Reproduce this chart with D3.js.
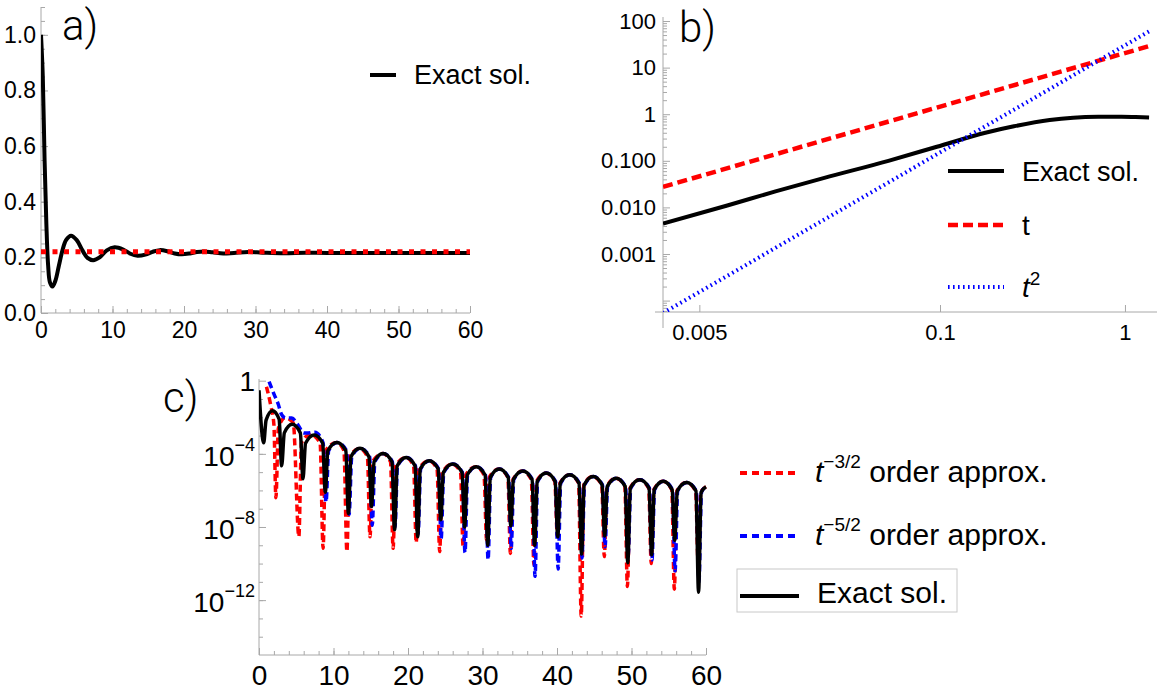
<!DOCTYPE html>
<html>
<head>
<meta charset="utf-8">
<script src="https://cdn.jsdelivr.net/npm/d3@7"></script>
<style>
  body { margin: 0; background: #fff; }
  svg { font-family: "Liberation Sans", Arial, Helvetica, sans-serif; }
</style>
</head>
<body>
<svg id="fig" width="1161" height="697"></svg>
<script>
// ---------- panel a) : exact solution vs long time limit ----------
var aTime  = [0, 0.25, 0.5, 0.75, 1.0, 1.25, 1.6, 2.0, 2.5, 3.0, 3.5, 4.2, 5.0, 5.8, 6.5, 7.3, 8.2, 9.2, 10.3, 11.5,
              12.5, 13.5, 14.6, 15.6, 16.6, 17.7, 18.7, 19.7, 20.8, 21.8, 22.8, 24, 25.5, 27, 29, 31, 34, 37, 40, 45, 50, 55, 60];
var aExact = [1.0, 0.85, 0.55, 0.32, 0.17, 0.11, 0.095, 0.115, 0.17, 0.225, 0.262, 0.278, 0.262, 0.225, 0.198, 0.19, 0.2, 0.225, 0.236, 0.228,
              0.213, 0.206, 0.21, 0.22, 0.226, 0.222, 0.214, 0.211, 0.214, 0.219, 0.221, 0.218, 0.214, 0.216, 0.219, 0.217, 0.215, 0.217, 0.216, 0.216, 0.216, 0.216, 0.216];
var aLimitT = [0, 60];
var aLimit  = [0.22, 0.22];
var aXTicks = [0, 10, 20, 30, 40, 50, 60];
var aYTicks = [0, 0.2, 0.4, 0.6, 0.8, 1.0];

// ---------- panel b) : short time, log-log ----------
var bExactT = [0.00318, 0.00708, 0.0129, 0.0237, 0.0526, 0.0962, 0.176, 0.251, 0.392, 0.525, 0.716, 0.96, 1.14, 1.35];
var bExact  = [0.0045, 0.011, 0.022, 0.043, 0.1, 0.2, 0.4, 0.55, 0.75, 0.84, 0.88, 0.885, 0.87, 0.85];
var bLinT = [0.00318, 1.35];
var bLin  = [0.0276, 29];
var bSqT  = [0.00318, 1.35];
var bSq   = [5.4e-5, 60];
var bXTicks = [0.005, 0.1, 1];
var bXLabels = ["0.005", "0.1", "1"];
var bYTicks = [0.0001, 0.001, 0.01, 0.1, 1, 10, 100];
var bYLabels = ["", "0.001", "0.010", "0.100", "1", "10", "100"];

// ---------- panel c) : asymptotic approximations, |value| on log axis ----------
var cExact = [[0,3e-1],[0.63,4e-4],[0.95,7e-3],[1.8,2.3e-2],[2.7,8e-3],[3.04,2.2e-5],[3.4,1.4e-3],[4.45,4.1e-3],[5.55,1.4e-3],
  [5.9,4.3e-6],[6.25,3.8e-4],[7.4,1.07e-3],[8.55,3.8e-4],[8.9,8e-7],[9.25,1.5e-4],[10.45,4.2e-4],[11.65,1.5e-4],
  [12.0,5.4e-8],[12.35,7e-5],[13.55,2e-4],[14.75,7e-5],[15.1,1.3e-7],[15.45,3.7e-5],[16.65,1.05e-4],[17.85,3.7e-5],
  [18.2,7e-9],[18.55,2.2e-5],[19.75,6.3e-5],[20.95,2.2e-5],[21.3,2.9e-9],[21.65,1.5e-5],[22.85,4.2e-5],[24.05,1.5e-5],
  [24.4,2.5e-8],[24.75,9.7e-6],[26.0,2.75e-5],[27.25,9.7e-6],[27.6,1e-8],[27.95,7e-6],[29.15,2e-5],[30.35,7e-6],
  [30.7,1e-9],[31.05,5.2e-6],[32.25,1.48e-5],[33.45,5.2e-6],[33.8,1.15e-8],[34.15,4e-6],[35.4,1.15e-5],[36.65,4e-6],
  [37.0,1e-9],[37.35,3.1e-6],[38.55,8.9e-6],[39.75,3.1e-6],[40.1,2.9e-9],[40.45,2.5e-6],[41.7,7.1e-6],[42.95,2.5e-6],
  [43.3,3.3e-10],[43.65,2e-6],[44.85,5.75e-6],[46.05,2e-6],[46.4,3.2e-9],[46.75,1.65e-6],[47.95,4.7e-6],[49.15,1.65e-6],
  [49.5,1.1e-10],[49.85,1.35e-6],[51.1,3.8e-6],[52.35,1.35e-6],[52.7,3e-10],[53.05,1.1e-6],[54.25,3.2e-6],[55.45,1.1e-6],
  [55.8,1.9e-9],[56.15,9.5e-7],[57.4,2.7e-6],[58.65,9.5e-7],[59.0,2.7e-12],[59.35,8e-7],[60,1.6e-6]];

var cOrder32 = [[1.0,4.7e-1],[1.55,5e-2],[2.0,4e-3],[2.27,4e-7],[2.6,2.5e-3],[3.5,9.5e-3],[4.6,5e-3],[5.35,3e-9],
  [5.7,4e-4],[6.9,1.15e-3],[8.2,4e-4],[8.6,6.8e-10],[8.95,1.5e-4],[10.4,4.2e-4],[11.4,1.5e-4],[11.8,4.5e-10],
  [12.15,7e-5],[13.5,2e-4],[14.55,7e-5],[14.9,2.9e-9],[15.25,3.7e-5],[16.6,1.05e-4],[17.65,3.7e-5],[18.0,6.8e-10],
  [18.35,2.2e-5],[19.7,6.3e-5],[20.75,2.2e-5],[21.1,1.4e-9],[21.45,1.5e-5],[22.8,4.2e-5],[23.9,1.5e-5],[24.25,4.5e-10],
  [24.6,9.7e-6],[25.95,2.75e-5],[27.05,9.7e-6],[27.4,8.3e-10],[27.75,7e-6],[29.1,2e-5],[30.2,7e-6],[30.55,2e-9],
  [30.9,5.2e-6],[32.2,1.48e-5],[33.4,5.2e-6],[33.75,3.6e-10],[34.1,4e-6],[35.35,1.15e-5],[36.55,4e-6],[36.9,8.5e-11],
  [37.25,3.1e-6],[38.5,8.9e-6],[39.7,3.1e-6],[40.05,3e-9],[40.4,2.5e-6],[41.65,7.1e-6],[42.9,2.5e-6],[43.25,1.35e-13],
  [43.6,2e-6],[44.8,5.75e-6],[46.0,2e-6],[46.35,2.4e-10],[46.7,1.65e-6],[47.9,4.7e-6],[49.1,1.65e-6],[49.45,5.6e-12],
  [49.8,1.35e-6],[51.05,3.8e-6],[52.3,1.35e-6],[52.65,1e-10],[53.0,1.1e-6],[54.2,3.2e-6],[55.4,1.1e-6],[55.75,4e-12],
  [56.1,9.5e-7],[57.35,2.7e-6],[58.6,9.5e-7],[58.95,1e-10],[59.3,8e-7],[60,1.6e-6]];

var cOrder52 = [[1.35,9e-1],[2.0,1.9e-1],[2.6,5e-2],[3.0,1.5e-2],[3.6,9e-3],[4.4,9e-3],[5.2,4e-3],[6.0,1.4e-3],
  [6.6,1.4e-3],[7.5,1.5e-3],[8.6,4e-4],[9.0,2.3e-7],[9.35,1.5e-4],[10.5,4.2e-4],[11.75,1.5e-4],[12.1,5e-8],
  [12.45,7e-5],[13.6,2e-4],[14.85,7e-5],[15.2,1.25e-8],[15.55,3.7e-5],[16.7,1.05e-4],[17.9,3.7e-5],[18.25,1e-8],
  [18.6,2.2e-5],[19.8,6.3e-5],[21.0,2.2e-5],[21.35,4e-9],[21.7,1.5e-5],[22.9,4.2e-5],[24.1,1.5e-5],[24.45,2.3e-9],
  [24.8,9.7e-6],[26.05,2.75e-5],[27.3,9.7e-6],[27.65,4e-10],[28.0,7e-6],[29.2,2e-5],[30.4,7e-6],[30.75,1.6e-10],
  [31.1,5.2e-6],[32.3,1.48e-5],[33.5,5.2e-6],[33.85,6.8e-10],[34.2,4e-6],[35.45,1.15e-5],[36.7,4e-6],[37.05,2e-11],
  [37.4,3.1e-6],[38.6,8.9e-6],[39.8,3.1e-6],[40.15,5e-11],[40.5,2.5e-6],[41.75,7.1e-6],[43.0,2.5e-6],[43.35,2e-10],
  [43.7,2e-6],[44.9,5.75e-6],[46.1,2e-6],[46.45,8.3e-10],[46.8,1.65e-6],[48.0,4.7e-6],[49.2,1.65e-6],[49.55,3e-10],
  [49.9,1.35e-6],[51.15,3.8e-6],[52.4,1.35e-6],[52.75,1.6e-10],[53.1,1.1e-6],[54.3,3.2e-6],[55.5,1.1e-6],[55.85,4e-11],
  [56.2,9.5e-7],[57.45,2.7e-6],[58.7,9.5e-7],[59.05,1e-11],[59.4,8e-7],[60,1.6e-6]];

var cXTicks = [0, 10, 20, 30, 40, 50, 60];
var cYTicks = [1, 1e-4, 1e-8, 1e-12];
var cYLabels = [["1", ""], ["10", "\u22124"], ["10", "\u22128"], ["10", "\u221212"]];

var RED = "#ff0000", BLUE = "#0000ff", GRAY = "#a8a8a8";
var svg = d3.select("#fig");

function clipRect(id, x, y, w, h) {
  svg.append("clipPath").attr("id", id).append("rect")
    .attr("x", x).attr("y", y).attr("width", w).attr("height", h);
}

function tidy(g, fs) {
  g.select(".domain").remove();
  g.selectAll(".tick line").attr("stroke", GRAY);
  g.selectAll(".tick text").attr("fill", "#000").style("font-size", fs + "px")
    .style("font-family", '"Liberation Sans", Arial, sans-serif');
}

function line(g, x1, y1, x2, y2) {
  g.append("line").attr("x1", x1).attr("y1", y1).attr("x2", x2).attr("y2", y2)
    .attr("stroke", GRAY).attr("stroke-width", 1);
}

// ================= a) =================
var ax = d3.scaleLinear().domain([0, 60]).range([41, 470]);
var ay = d3.scaleLinear().domain([0, 1.1]).range([313, 7]);
var ga = svg.append("g");

tidy(ga.append("g").attr("transform", "translate(0," + ay(0) + ")")
  .call(d3.axisBottom(ax).tickValues(d3.range(0, 61, 2)).tickSize(-4).tickFormat("")), 22);
tidy(ga.append("g").attr("transform", "translate(0," + ay(0) + ")")
  .call(d3.axisBottom(ax).tickValues(aXTicks).tickSize(-7).tickPadding(9).tickFormat(d3.format("d"))), 23);
tidy(ga.append("g").attr("transform", "translate(" + ax(0) + ",0)")
  .call(d3.axisLeft(ay).tickValues(d3.range(0, 1.101, 0.05)).tickSize(-4).tickFormat("")), 22);
tidy(ga.append("g").attr("transform", "translate(" + ax(0) + ",0)")
  .call(d3.axisLeft(ay).tickValues(aYTicks).tickSize(-7).tickPadding(5).tickFormat(d3.format(".1f"))), 23);
line(ga, ax(0), ay(0), ax(60), ay(0));
line(ga, ax(0), ay(0), ax(0), ay(1.1));

clipRect("clipA", ax(0), ay(1.1), ax(60) - ax(0) + 4, ay(0) - ay(1.1));
var pa = ga.append("g").attr("clip-path", "url(#clipA)");
pa.append("path").datum(d3.zip(aTime, aExact))
  .attr("d", d3.line().x(function (d) { return ax(d[0]); }).y(function (d) { return ay(d[1]); }).curve(d3.curveCatmullRom.alpha(0.5)))
  .attr("fill", "none").attr("stroke", "#000").attr("stroke-width", 4);
pa.append("path").datum(d3.zip(aLimitT, aLimit))
  .attr("d", d3.line().x(function (d) { return ax(d[0]); }).y(function (d) { return ay(d[1]); }))
  .attr("fill", "none").attr("stroke", RED).attr("stroke-width", 5).attr("stroke-dasharray", "5,6.5");

ga.append("text").attr("x", 62).attr("y", 40).text("a)")
  .style("font-size", "42px").style("font-family", "Roboto, 'Liberation Sans', sans-serif").style("font-weight", 300);
ga.append("line").attr("x1", 370).attr("x2", 396).attr("y1", 75).attr("y2", 75).attr("stroke", "#000").attr("stroke-width", 4);
ga.append("text").attr("x", 414).attr("y", 84).text("Exact sol.").style("font-size", "27px");

// ================= b) =================
var bx = d3.scaleLog().domain([0.00318, 1.49]).range([663, 1157]);
var by = d3.scaleLog().domain([5.69e-5, 122]).range([312, 17]);
var gb = svg.append("g");

var bMinor = [];
[-5, -4, -3, -2, -1, 0, 1, 2].forEach(function (e) {
  for (var k = 2; k <= 9; k++) {
    var v = k * Math.pow(10, e);
    if (v > by.domain()[0] && v < by.domain()[1]) bMinor.push(v);
  }
});
tidy(gb.append("g").attr("transform", "translate(" + bx.range()[0] + ",0)")
  .call(d3.axisLeft(by).tickValues(bMinor).tickSize(-4).tickFormat("")), 22);
tidy(gb.append("g").attr("transform", "translate(" + bx.range()[0] + ",0)")
  .call(d3.axisLeft(by).tickValues(bYTicks).tickSize(-7).tickPadding(7)
    .tickFormat(function (d, i) { return bYLabels[i]; })), 22);
tidy(gb.append("g").attr("transform", "translate(0," + by.range()[0] + ")")
  .call(d3.axisBottom(bx).tickValues(bXTicks).tickSize(-7).tickPadding(12)
    .tickFormat(function (d, i) { return bXLabels[i]; })), 22);
line(gb, 655, by.range()[0], 1157, by.range()[0]);
line(gb, bx.range()[0], 328, bx.range()[0], by.range()[1]);

clipRect("clipB", bx.range()[0], by.range()[1], 1157 - bx.range()[0], by.range()[0] - by.range()[1]);
var pb = gb.append("g").attr("clip-path", "url(#clipB)");
var bLine = d3.line().x(function (d) { return bx(d[0]); }).y(function (d) { return by(d[1]); });
pb.append("path").datum(d3.zip(bExactT, bExact)).attr("d", bLine.curve(d3.curveMonotoneX))
  .attr("fill", "none").attr("stroke", "#000").attr("stroke-width", 4);
pb.append("path").datum(d3.zip(bLinT, bLin)).attr("d", bLine.curve(d3.curveLinear))
  .attr("fill", "none").attr("stroke", RED).attr("stroke-width", 4.5).attr("stroke-dasharray", "10,5");
pb.append("path").datum(d3.zip(bSqT, bSq)).attr("d", bLine.curve(d3.curveLinear))
  .attr("fill", "none").attr("stroke", BLUE).attr("stroke-width", 4).attr("stroke-dasharray", "1.6,3.4");

gb.append("text").attr("x", 679).attr("y", 42).text("b)")
  .style("font-size", "42px").style("font-family", "Roboto, 'Liberation Sans', sans-serif").style("font-weight", 300);
var bLeg = [
  { y: 171, color: "#000", dash: null, w: 4 },
  { y: 225, color: RED, dash: "10,5", w: 4.5 },
  { y: 287, color: BLUE, dash: "1.6,3.4", w: 4 }
];
bLeg.forEach(function (d) {
  gb.append("line").attr("x1", 948).attr("x2", 1004).attr("y1", d.y).attr("y2", d.y)
    .attr("stroke", d.color).attr("stroke-width", d.w).attr("stroke-dasharray", d.dash);
});
gb.append("text").attr("x", 1022).attr("y", 181).text("Exact sol.").style("font-size", "27px");
gb.append("text").attr("x", 1022).attr("y", 235).text("t").style("font-size", "28px");
var t2 = gb.append("text").attr("x", 1022).attr("y", 297).style("font-size", "28px");
t2.append("tspan").text("t").style("font-style", "italic");
t2.append("tspan").attr("dy", -12).style("font-size", "19px").text("2");

// ================= c) =================
var cx = d3.scaleLinear().domain([0, 60]).range([259, 706]);
var cy = d3.scaleLog().domain([1e-15, 1]).range([655, 380.7]);
var gc = svg.append("g");

tidy(gc.append("g").attr("transform", "translate(0," + cy(1e-15) + ")")
  .call(d3.axisBottom(cx).tickValues(d3.range(0, 61, 2)).tickSize(-4).tickFormat("")), 28);
tidy(gc.append("g").attr("transform", "translate(0," + cy(1e-15) + ")")
  .call(d3.axisBottom(cx).tickValues(cXTicks).tickSize(-7).tickPadding(10).tickFormat(d3.format("d"))), 28);
var cMinor = d3.range(-14, 0).map(function (e) { return Math.pow(10, e); });
tidy(gc.append("g").attr("transform", "translate(" + cx(0) + ",0)")
  .call(d3.axisLeft(cy).tickValues(cMinor).tickSize(-4).tickFormat("")), 28);
tidy(gc.append("g").attr("transform", "translate(" + cx(0) + ",0)")
  .call(d3.axisLeft(cy).tickValues(cYTicks).tickSize(-7).tickFormat("")), 28);
line(gc, cx(0), cy(1e-15), cx(60), cy(1e-15));
line(gc, cx(0), cy(1e-15), cx(0), 379);

cYTicks.forEach(function (v, i) {
  var t = gc.append("text").attr("x", 255).attr("y", cy(v) + (i === 0 ? 10 : 12))
    .attr("text-anchor", "end").style("font-size", "28px");
  t.append("tspan").text(cYLabels[i][0]);
  if (cYLabels[i][1]) t.append("tspan").attr("dy", -15).style("font-size", "18px").text(cYLabels[i][1]);
});

clipRect("clipC", cx(0), 376, cx(60) - cx(0) + 3, cy(1e-15) - 376);
var pc = gc.append("g").attr("clip-path", "url(#clipC)");
var cLine = d3.line().x(function (d) { return cx(d[0]); }).y(function (d) { return cy(d[1]); }).curve(d3.curveMonotoneX);
pc.append("path").datum(cOrder32).attr("d", cLine)
  .attr("fill", "none").attr("stroke", RED).attr("stroke-width", 3.5).attr("stroke-dasharray", "7,4");
pc.append("path").datum(cOrder52).attr("d", cLine)
  .attr("fill", "none").attr("stroke", BLUE).attr("stroke-width", 3.5).attr("stroke-dasharray", "7,4");
pc.append("path").datum(cExact).attr("d", cLine)
  .attr("fill", "none").attr("stroke", "#000").attr("stroke-width", 3.5);

gc.append("text").attr("x", 163).attr("y", 412).text("c)")
  .style("font-size", "42px").style("font-family", "Roboto, 'Liberation Sans', sans-serif").style("font-weight", 300);

// legend c
gc.append("rect").attr("x", 737).attr("y", 569).attr("width", 220).attr("height", 43)
  .attr("fill", "none").attr("stroke", "#c8c8c8").attr("stroke-width", 1);
var cLeg = [
  { y: 473, color: RED, dash: "7,5", sup: "\u22123/2", label: " order approx." },
  { y: 536, color: BLUE, dash: "7,5", sup: "\u22125/2", label: " order approx." }
];
cLeg.forEach(function (d) {
  gc.append("line").attr("x1", 740).attr("x2", 797).attr("y1", d.y).attr("y2", d.y)
    .attr("stroke", d.color).attr("stroke-width", 4).attr("stroke-dasharray", d.dash);
  var t = gc.append("text").attr("x", 815).attr("y", d.y + 9).style("font-size", "30px");
  t.append("tspan").text("t").style("font-style", "italic");
  t.append("tspan").attr("dy", -14).style("font-size", "19px").text(d.sup);
  t.append("tspan").attr("dy", 14).text(d.label);
});
gc.append("line").attr("x1", 740).attr("x2", 799).attr("y1", 596).attr("y2", 596).attr("stroke", "#000").attr("stroke-width", 4);
gc.append("text").attr("x", 817).attr("y", 603).text("Exact sol.").style("font-size", "30px");
</script>
</body>
</html>
